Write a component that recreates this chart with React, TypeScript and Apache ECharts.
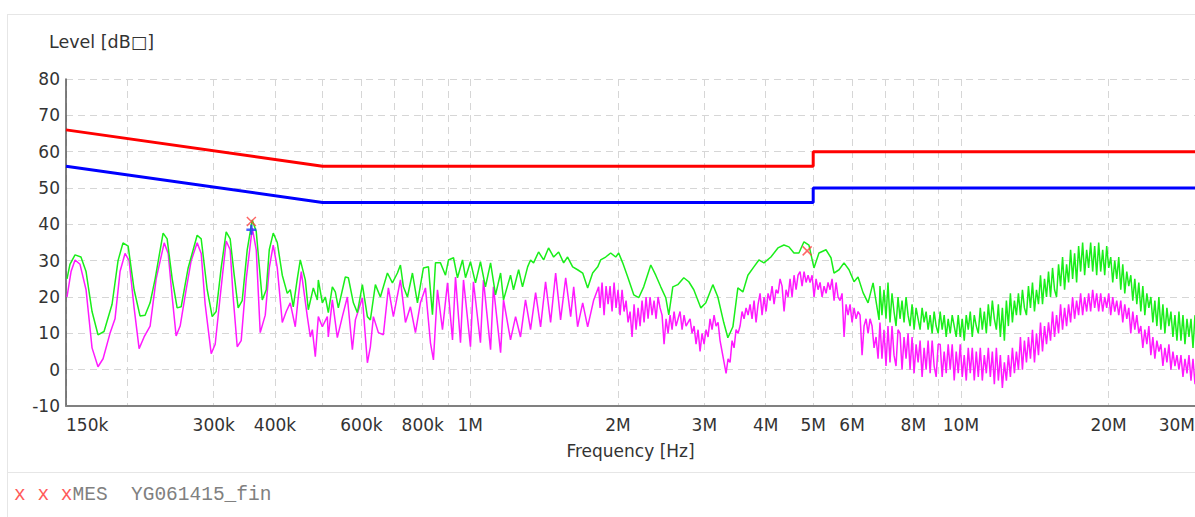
import { useEffect, useRef } from "react";
import * as echarts from "echarts";

const FONT = "'DejaVu Sans', Verdana, sans-serif";
const MONO = "'Liberation Mono', 'Courier New', monospace";

// Limit lines: [frequency MHz, level dBµV]
const qpLimit: [number, number][] = [[0.15, 66], [0.5, 56], [5, 56], [5, 60], [30, 60]];
const avLimit: [number, number][] = [[0.15, 56], [0.5, 46], [5, 46], [5, 50], [30, 50]];

// Peak detector trace, 150 kHz – 6.8 MHz: [MHz, dBµV]
const peakLow: [number, number][] = [
  [0.1507, 25], [0.1528, 29], [0.1565, 31.6], [0.1609, 31], [0.1648, 27], [0.1695, 16], [0.1743, 9.6],
  [0.1793, 10.5], [0.1862, 18], [0.1915, 30], [0.196, 34.9], [0.2008, 34], [0.2065, 22], [0.2123, 14.8],
  [0.2174, 15], [0.2226, 18.4], [0.2279, 25], [0.2366, 37.6], [0.2411, 36], [0.2469, 25], [0.2527, 17],
  [0.2575, 17.3], [0.2661, 28], [0.2776, 37], [0.2829, 36], [0.291, 22], [0.2979, 14.6], [0.3035, 16],
  [0.3107, 28], [0.3181, 37.9], [0.3241, 36], [0.3303, 26], [0.3365, 17], [0.3429, 19], [0.3511, 33],
  [0.3595, 41.2], [0.3663, 38], [0.3768, 19.2], [0.3839, 22], [0.3894, 33], [0.3967, 37.6], [0.4043, 35],
  [0.4139, 26], [0.4237, 21], [0.4297, 22], [0.4358, 17.3], [0.4441, 25], [0.4504, 30.2], [0.4611, 24.7],
  [0.4677, 16.5], [0.4788, 22.5], [0.4879, 19.2], [0.4902, 24.7], [0.4995, 18.4], [0.5066, 20], [0.5137, 15.7],
  [0.5235, 22.8], [0.5309, 21.4], [0.5384, 17], [0.5564, 25.5], [0.5644, 25.3], [0.5778, 18.4], [0.5888, 15.7],
  [0.6028, 23.4], [0.6171, 14.6], [0.6258, 13.7], [0.6407, 23.4], [0.6559, 20], [0.6779, 26.6], [0.694, 23.9],
  [0.7105, 26.6], [0.7206, 28.8], [0.7308, 22.8], [0.7447, 20], [0.7624, 26.6], [0.7805, 18.4], [0.8027, 28],
  [0.8219, 28.3], [0.8375, 15.1], [0.8494, 29.4], [0.8695, 29.4], [0.8903, 26], [0.9029, 30.2], [0.9244, 30.8],
  [0.9419, 25.3], [0.9643, 30.2], [0.978, 25.3], [1.001, 29.7], [1.025, 23.9], [1.049, 29.7], [1.074, 22.8],
  [1.1, 29.4], [1.126, 20.6], [1.153, 26.6], [1.169, 19.2], [1.208, 26], [1.225, 22], [1.255, 27.5],
  [1.278, 22.8], [1.309, 28.3], [1.327, 30.2], [1.346, 29.4], [1.378, 32.4], [1.411, 30.2], [1.444, 33.5],
  [1.479, 31], [1.514, 32.4], [1.55, 29.4], [1.579, 31], [1.617, 28.3], [1.655, 27.5], [1.695, 26.6],
  [1.735, 22.5], [1.776, 26.6], [1.819, 28.3], [1.844, 30.2], [1.888, 31], [1.933, 32.1], [1.979, 31],
  [2.007, 32.1], [2.045, 29.4], [2.094, 25.5], [2.154, 20.6], [2.205, 19.8], [2.257, 22.8], [2.333, 28.8],
  [2.388, 26], [2.445, 22.8], [2.503, 19.8], [2.539, 15.1], [2.587, 22.8], [2.648, 23.4], [2.724, 25.3],
  [2.789, 24.2], [2.855, 22], [2.951, 17], [3.021, 18.4], [3.122, 23.4], [3.196, 20], [3.287, 12.9],
  [3.35, 8.8], [3.43, 11.8], [3.511, 22.5], [3.595, 21.4], [3.68, 26], [3.785, 28.3], [3.875, 30.2],
  [3.967, 29.4], [4.1, 31], [4.237, 33.5], [4.358, 34.3], [4.462, 33.8], [4.568, 32.1], [4.676, 32.1],
  [4.788, 35.2], [4.901, 34.3], [5.018, 28], [5.137, 32.1], [5.309, 33], [5.435, 30.8], [5.513, 26.6],
  [5.644, 27.5], [5.778, 29.4], [5.915, 27.5], [6.056, 24.2], [6.171, 25.5], [6.318, 21.2], [6.468, 18.4],
  [6.622, 23.9], [6.811, 13.7],
];

// Peak detector sweep, log-spaced points from 6.84 MHz to 30 MHz: dBµV
const peakSweepStart = 6.84;
const peakSweepStop = 30;
const peakSweep: number[] = [
  23, 15, 22, 14, 24, 13, 21, 16, 12, 20,
  14, 19, 13, 20, 15, 12, 18, 11, 17, 14,
  11, 17, 13, 16, 11, 15, 10, 16, 12, 10,
  16, 11, 15, 9, 14, 10, 15, 12, 9, 15,
  9, 14, 8, 15, 11, 16, 9, 15, 12, 10,
  17, 11, 16, 10, 18, 12, 19, 14, 11, 18,
  9, 17, 8, 19, 12, 21, 13, 19, 15, 21,
  15, 22, 17, 15, 23, 17, 24, 16, 22, 18,
  26, 18, 25, 20, 27, 20, 28, 22, 20, 29,
  23, 31, 22, 29, 24, 33, 25, 32, 24, 34,
  27, 35, 26, 33, 28, 35, 27, 34, 26, 35,
  27, 33, 26, 34, 28, 31, 24, 30, 25, 31,
  22, 29, 21, 27, 23, 26, 19, 25, 18, 24,
  16, 23, 15, 21, 17, 20, 13, 19, 12, 20,
  11, 18, 10, 17, 12, 16, 9, 15, 8, 16,
  8, 15, 7, 14, 9, 14, 6, 15,
];

// Average detector trace, 150 kHz – 1.83 MHz: [MHz, dBµV]
const avgLow: [number, number][] = [
  [0.1507, 20], [0.1536, 27], [0.1565, 30.2], [0.1602, 29], [0.1648, 22], [0.1695, 6], [0.1743, 0.8],
  [0.1785, 3], [0.1844, 10], [0.1888, 14], [0.1933, 27], [0.1979, 32], [0.2017, 30], [0.2065, 17],
  [0.2114, 5.8], [0.2164, 9], [0.2226, 12], [0.229, 25], [0.2378, 34.9], [0.2423, 32], [0.2469, 20],
  [0.2515, 9.3], [0.2563, 12], [0.2636, 22], [0.2699, 30], [0.2776, 34.9], [0.2829, 32], [0.2882, 18],
  [0.2965, 4.4], [0.3021, 7], [0.3092, 20], [0.3181, 35.4], [0.3241, 33], [0.3287, 20], [0.335, 6.3],
  [0.3413, 8], [0.3495, 25], [0.3595, 39], [0.3663, 33], [0.3732, 10.2], [0.3821, 15], [0.3894, 28],
  [0.3967, 34.3], [0.4043, 28], [0.4139, 13], [0.4217, 16], [0.4297, 18.4], [0.4399, 11.8], [0.4462, 20],
  [0.4525, 27], [0.4655, 14.6], [0.4721, 9], [0.4766, 11], [0.4833, 3.6], [0.4902, 14.6], [0.4995, 11.8],
  [0.5113, 14.6], [0.5137, 9], [0.5235, 19.2], [0.5359, 8.8], [0.5487, 14.6], [0.5617, 20], [0.5751, 5.5],
  [0.5833, 13.7], [0.6028, 19.8], [0.6171, 1.9], [0.6258, 6.3], [0.6347, 14.6], [0.6498, 10.2], [0.6652, 9.6],
  [0.681, 22.5], [0.6972, 14.6], [0.7206, 24.7], [0.7378, 13], [0.7552, 17.3], [0.7732, 10.2], [0.7915, 18.4],
  [0.8104, 22.5], [0.8296, 7.4], [0.8414, 2.7], [0.8574, 22], [0.8778, 11], [0.8987, 23.9], [0.9201, 8.2],
  [0.9331, 25.5], [0.9552, 7.4], [0.9688, 24.7], [1.001, 6.3], [1.015, 24.2], [1.049, 7.4], [1.064, 24.7],
  [1.1, 5.5], [1.115, 22.8], [1.153, 4.7], [1.169, 19.2], [1.208, 8.2], [1.237, 14.6], [1.266, 9],
  [1.296, 19.2], [1.327, 11], [1.359, 21.2], [1.391, 11.8], [1.424, 24.2], [1.458, 13], [1.493, 26.6],
  [1.528, 13.7], [1.565, 25.3], [1.602, 14.6], [1.625, 22.8], [1.655, 11.8], [1.695, 18.4], [1.735, 11.8],
  [1.785, 19.2], [1.827, 22.8],
];

// Average detector sweep, log-spaced points from 1.84 MHz to 6.78 MHz: dBµV
const avgMidSweepStart = 1.839;
const avgMidSweepStop = 6.779;
const avgMidSweep: number[] = [
  17, 24, 15, 23, 18, 23, 16, 24, 17, 22,
  15, 22, 16, 19, 13, 16, 9, 18, 11, 17,
  12, 19, 13, 20, 14, 20, 15, 19, 14, 20,
  17, 15, 7, 14, 10, 15, 11, 16, 12, 14,
  16, 11, 15, 12, 13, 14, 10, 12, 7, 11,
  5, 10, 7, 11, 9, 14, 11, 15, 12, 13,
  8, 5, 2, -1, 3, 2, 8, 6, 11, 10,
  12, 16, 14, 17, 15, 18, 14, 19, 13, 18,
  21, 15, 20, 16, 21, 19, 23, 18, 22, 21,
  25, 23, 16, 22, 20, 25, 20, 26, 22, 26,
  27, 23, 27, 24, 26, 24, 26, 20, 25, 22,
  24, 20, 23, 21, 24, 22, 25, 19, 24, 20,
  19, 21, 9, 18, 15, 18, 13, 17, 14, 16,
  15, 4, 12, 14, 10, 14, 12, 6, 9, 3,
];

// Average detector sweep, log-spaced points from 6.84 MHz to 30 MHz: dBµV
const avgSweepStart = 6.84;
const avgSweepStop = 30;
const avgSweep: number[] = [
  13, 3, 11, 1, 12, 2, 12, 4, 1, 11,
  10, 0, 9, 3, 10, 0, 9, -1, 7, 2,
  8, -2, 6, 0, 8, -1, 8, 1, -2, 7,
  7, -2, 5, -1, 7, 0, 7, -3, 5, -1,
  7, -2, 4, -3, 6, -1, 6, -3, 5, -2,
  6, -3, 4, -1, 6, -2, 5, -4, 6, -3,
  4, -5, 2, -3, 4, -2, 6, -1, 5, 0,
  9, 0, 8, 2, 9, 3, 11, 2, 10, 4,
  13, 5, 12, 7, 13, 8, 16, 9, 15, 10,
  18, 11, 17, 12, 18, 13, 20, 14, 19, 15,
  21, 15, 20, 16, 21, 16, 22, 17, 21, 16,
  21, 16, 20, 17, 21, 15, 20, 16, 19, 15,
  19, 13, 18, 14, 17, 10, 16, 11, 15, 10,
  12, 6, 11, 7, 12, 4, 9, 3, 8, 5,
  7, 1, 6, 2, 7, 0, 5, 1, 4, 0,
  4, -2, 3, -1, 4, -3, 3, -4,
];

// Final measurement results: [MHz, dBµV]
const qpResults: [number, number][] = [[0.358, 40.8], [4.86, 32.7]];
const avResults: [number, number][] = [[0.358, 38.5]];

// Frequency axis
const fMin = 0.15;
const fMax = 30;
const gridFreqs = [
  0.15, 0.2, 0.3, 0.4, 0.5, 0.6, 0.7, 0.8, 0.9,
  1, 2, 3, 4, 5, 6, 7, 8, 9,
  10, 20, 30,
];
const labelFreqs = [0.15, 0.3, 0.4, 0.6, 0.8, 1, 2, 3, 4, 5, 6, 8, 10, 20, 30];
const labelTexts = ["150k", "300k", "400k", "600k", "800k", "1M", "2M", "3M", "4M", "5M", "6M", "8M", "10M", "20M", "30M"];

// Level axis
const levelMin = -10;
const levelMax = 80;
const levelStep = 10;

const lg = (f: number) => Math.log10(f);
const toXY = (pts: [number, number][]) => pts.map(([f, v]) => [lg(f), v]);
const sweepXY = (start: number, stop: number, levels: number[]) => {
  const a = lg(start);
  const b = lg(stop);
  const n = levels.length;
  return levels.map((v, i) => [a + ((b - a) * i) / (n - 1), v]);
};

const CROSS = "path://M0,0L10,10M10,0L0,10";
const PLUS = "path://M5,0L5,10M0,5L10,5";

export default function App() {
  const ref = useRef<HTMLDivElement>(null);

  useEffect(() => {
    if (!ref.current) return;
    const chart = echarts.init(ref.current, null, { renderer: "svg" });

    const peakData = [...toXY(peakLow), ...sweepXY(peakSweepStart, peakSweepStop, peakSweep)];
    const avgData = [
      ...toXY(avgLow),
      ...sweepXY(avgMidSweepStart, avgMidSweepStop, avgMidSweep),
      ...sweepXY(avgSweepStart, avgSweepStop, avgSweep),
    ];

    const gridLine = { show: true, lineStyle: { color: "#d6d6d6", width: 1, type: [7, 5] as number[] } };

    chart.setOption({
      animation: false,
      backgroundColor: "#ffffff",
      textStyle: { fontFamily: FONT },
      grid: { left: 66, top: 79, right: 0, bottom: 111, containLabel: false, outerBoundsMode: "none" },
      xAxis: {
        type: "value",
        min: lg(fMin),
        max: lg(fMax),
        name: "Frequency [Hz]",
        nameLocation: "middle",
        nameGap: 36,
        nameTextStyle: { color: "#333", fontSize: 17, fontFamily: FONT },
        axisLine: { show: true, onZero: false, lineStyle: { color: "#808080", width: 2 } },
        axisTick: { show: false, customValues: gridFreqs.map(lg) },
        axisLabel: {
          customValues: labelFreqs.map(lg),
          color: "#333",
          fontSize: 17,
          fontFamily: FONT,
          margin: 10,
          alignMinLabel: "left",
          alignMaxLabel: "right",
          formatter: (v: number) => {
            const i = labelFreqs.findIndex((f) => Math.abs(lg(f) - v) < 1e-6);
            return i >= 0 ? labelTexts[i] : "";
          },
        },
        splitLine: gridLine,
      },
      yAxis: {
        type: "value",
        min: levelMin,
        max: levelMax,
        interval: levelStep,
        axisLine: { show: true, onZero: false, lineStyle: { color: "#555", width: 1.5 } },
        axisTick: { show: false },
        axisLabel: { color: "#333", fontSize: 17, fontFamily: FONT, margin: 6 },
        splitLine: gridLine,
      },
      graphic: [
        { type: "line", shape: { x1: 7, y1: 14.5, x2: 1195, y2: 14.5 }, style: { stroke: "#e6e6e6", lineWidth: 1 } },
        { type: "line", shape: { x1: 7.5, y1: 14, x2: 7.5, y2: 517 }, style: { stroke: "#e6e6e6", lineWidth: 1 } },
        { type: "line", shape: { x1: 7, y1: 472.5, x2: 1195, y2: 472.5 }, style: { stroke: "#e6e6e6", lineWidth: 1 } },
        {
          type: "text",
          left: 49,
          top: 33,
          style: { text: "Level [dB\u25A1]", fill: "#333", font: `17.5px ${FONT}` },
        },
        {
          type: "text",
          left: 14,
          top: 485,
          style: {
            text: "{r|x x x}MES  YG061415_fin",
            fill: "#808080",
            font: `19.5px ${MONO}`,
            rich: { r: { fill: "#ff5a5a", font: `19.5px ${MONO}` } },
          },
        },
      ],
      series: [
        {
          name: "QP limit",
          type: "line",
          data: toXY(qpLimit),
          showSymbol: false,
          silent: true,
          lineStyle: { color: "#ff0000", width: 3 },
          z: 3,
        },
        {
          name: "AV limit",
          type: "line",
          data: toXY(avLimit),
          showSymbol: false,
          silent: true,
          lineStyle: { color: "#0000ff", width: 3 },
          z: 3,
        },
        {
          name: "Average",
          type: "line",
          data: avgData,
          showSymbol: false,
          silent: true,
          lineStyle: { color: "#ff1aff", width: 1.5 },
          z: 2,
        },
        {
          name: "Peak",
          type: "line",
          data: peakData,
          showSymbol: false,
          silent: true,
          lineStyle: { color: "#1aee1a", width: 1.5 },
          z: 2,
        },
        {
          name: "AV result",
          type: "scatter",
          data: toXY(avResults),
          symbol: PLUS,
          symbolSize: 10,
          itemStyle: { color: "rgba(0,0,0,0)", borderColor: "#1a3cff", borderWidth: 2.5 },
          z: 4,
        },
        {
          name: "QP result",
          type: "scatter",
          data: toXY(qpResults),
          symbol: CROSS,
          symbolSize: 9,
          itemStyle: { color: "rgba(0,0,0,0)", borderColor: "#ff4040", borderWidth: 1.5 },
          z: 5,
        },
      ],
    });

    return () => chart.dispose();
  }, []);

  return <div ref={ref} style={{ position: "absolute", left: 0, top: 0, width: 1195, height: 517 }} />;
}
